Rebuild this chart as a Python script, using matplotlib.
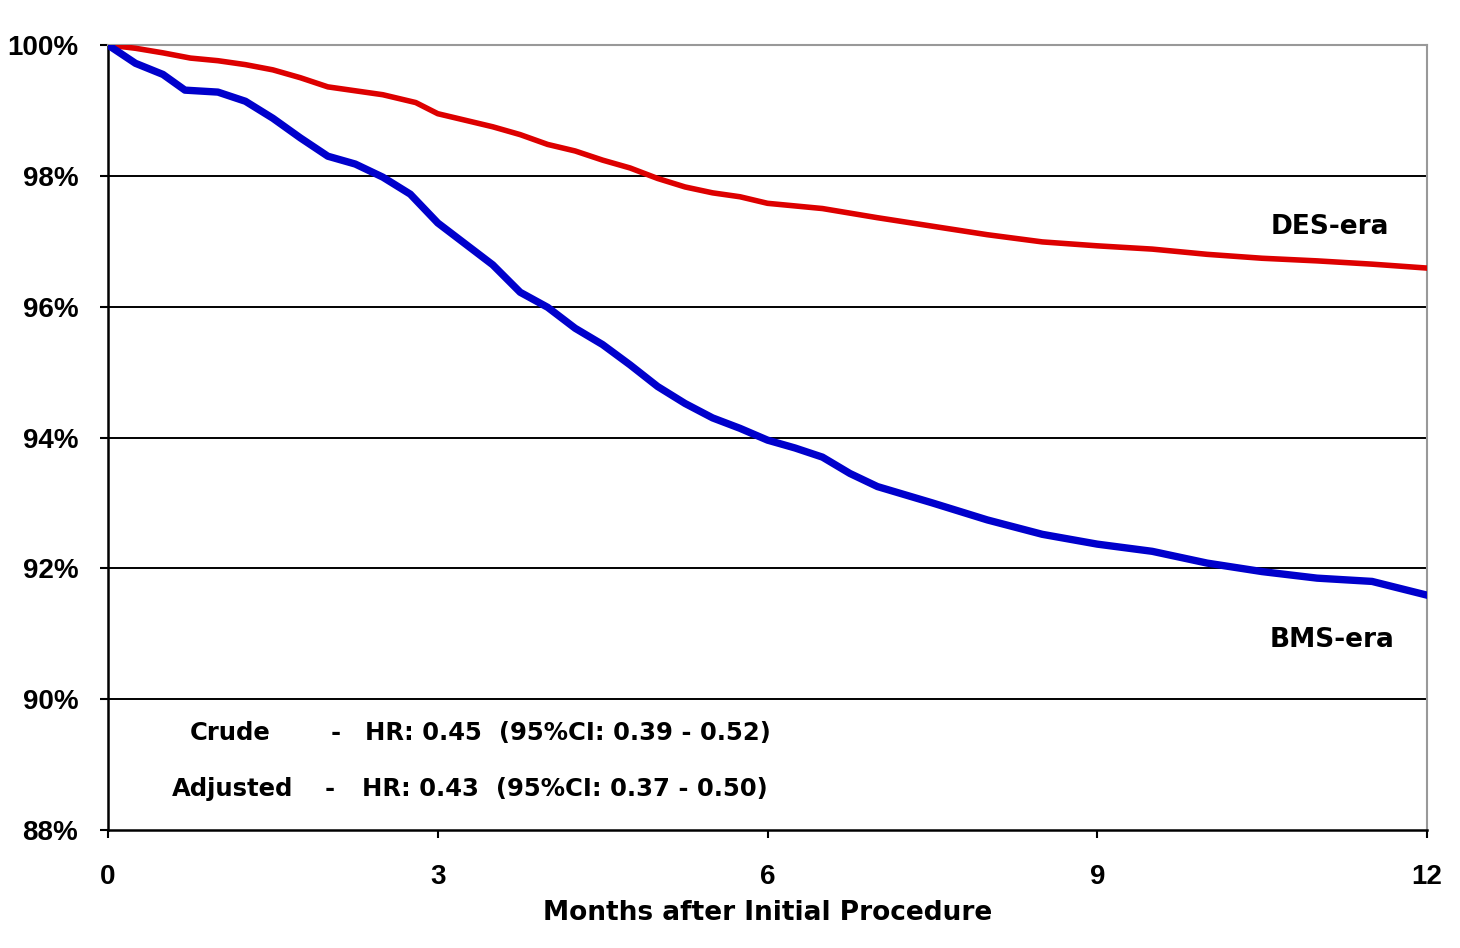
import matplotlib
matplotlib.use("Agg")
import matplotlib.pyplot as plt
import numpy as np

# Data (months, survival %)
des_months = [0, 0.25, 0.5, 0.75, 1.0, 1.25, 1.5, 1.75, 2.0, 2.25, 2.5, 2.8, 3.0, 3.25, 3.5, 3.75,
              4.0, 4.25, 4.5, 4.75, 5.0, 5.25, 5.5, 5.75, 6.0, 6.5, 7.0, 7.5, 8.0, 8.5, 9.0, 9.5,
              10.0, 10.5, 11.0, 11.5, 12.0]
des_surv = [100.0, 99.95, 99.88, 99.80, 99.76, 99.70, 99.62, 99.50, 99.36, 99.30, 99.24, 99.12, 98.95,
            98.85, 98.75, 98.63, 98.48, 98.38, 98.24, 98.12, 97.96, 97.83, 97.74, 97.68, 97.58,
            97.50, 97.36, 97.23, 97.10, 96.99, 96.93, 96.88, 96.80, 96.74, 96.70, 96.65, 96.59]

bms_months = [0, 0.25, 0.5, 0.7, 1.0, 1.25, 1.5, 1.75, 2.0, 2.25, 2.5, 2.75, 3.0, 3.25, 3.5, 3.75,
              4.0, 4.25, 4.5, 4.75, 5.0, 5.25, 5.5, 5.75, 6.0, 6.25, 6.5, 6.75, 7.0, 7.5, 8.0, 8.5,
              9.0, 9.5, 10.0, 10.5, 11.0, 11.5, 12.0]
bms_surv = [100.0, 99.72, 99.55, 99.31, 99.28, 99.14, 98.88, 98.58, 98.30, 98.18, 97.98, 97.72, 97.28,
            96.96, 96.64, 96.22, 95.99, 95.67, 95.42, 95.11, 94.78, 94.52, 94.30, 94.14, 93.96,
            93.84, 93.70, 93.45, 93.25, 93.00, 92.74, 92.52, 92.37, 92.26, 92.08, 91.95, 91.85,
            91.80, 91.59]

x_ticks = [0, 3, 6, 9, 12]
y_ticks = [88, 90, 92, 94, 96, 98, 100]
y_tick_labels = ["88%", "90%", "92%", "94%", "96%", "98%", "100%"]

plt.rcParams['font.family'] = ['Liberation Sans', 'DejaVu Sans']
wide = ['DejaVu Sans']

fig = plt.figure(figsize=(14.6, 9.48), dpi=100)
ax = fig.add_axes([108/1460, 1-830/948, (1427-108)/1460, (830-45)/948])

ax.plot(des_months, des_surv, color='#dd0000', lw=4.0, solid_joinstyle='round', zorder=3)
ax.plot(bms_months, bms_surv, color='#0000cc', lw=5.3, solid_joinstyle='round', zorder=3)

ax.set_xlim(0, 12)
ax.set_ylim(88, 100)
ax.set_xticks(x_ticks)
ax.set_xticklabels([str(t) for t in x_ticks], fontsize=20, fontweight='bold')
ax.set_yticks(y_ticks)
ax.set_yticklabels(y_tick_labels, fontsize=20, fontweight='bold')
ax.tick_params(axis='both', direction='out', length=5.5, width=1.5, color='black')
ax.tick_params(axis='x', pad=19)
ax.tick_params(axis='y', pad=16)

for y in y_ticks[1:-1]:
    ax.axhline(y, color='black', lw=1.4, zorder=1)

ax.spines['left'].set_color('black')
ax.spines['left'].set_linewidth(1.8)
ax.spines['bottom'].set_color('black')
ax.spines['bottom'].set_linewidth(1.8)
ax.spines['top'].set_color('#999999')
ax.spines['top'].set_linewidth(1.5)
ax.spines['right'].set_color('#999999')
ax.spines['right'].set_linewidth(1.5)

ax.set_xlabel("Months after Initial Procedure", fontsize=19, fontweight='bold',
              family=wide, labelpad=7)

ax.text(11.12, 97.22, "DES-era", fontsize=19, fontweight='bold', family=wide, ha='center', va='center')
ax.text(11.14, 90.90, "BMS-era", fontsize=19, fontweight='bold', family=wide, ha='center', va='center')

ax.text(1.11, 89.49, "Crude", fontsize=17.5, fontweight='bold', family=wide, ha='center', va='center')
ax.text(2.07, 89.49, "-", fontsize=17.5, fontweight='bold', family=wide, ha='center', va='center')
ax.text(2.34, 89.49, "HR: 0.45  (95%CI: 0.39 - 0.52)", fontsize=17.5, fontweight='bold', family=wide,
        ha='left', va='center')
ax.text(1.13, 88.63, "Adjusted", fontsize=17.5, fontweight='bold', family=wide, ha='center', va='center')
ax.text(2.02, 88.63, "-", fontsize=17.5, fontweight='bold', family=wide, ha='center', va='center')
ax.text(2.31, 88.63, "HR: 0.43  (95%CI: 0.37 - 0.50)", fontsize=17.5, fontweight='bold', family=wide,
        ha='left', va='center')

fig.savefig("out.png", dpi=100)
